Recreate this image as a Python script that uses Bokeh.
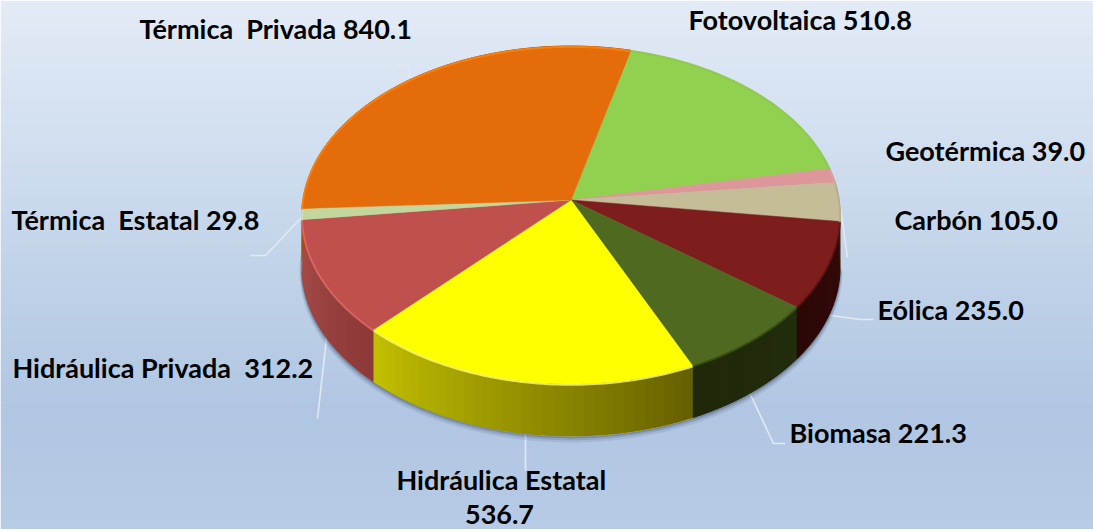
import numpy as np
from bokeh.plotting import figure
from bokeh.models import Range1d, ColumnDataSource
from bokeh.core.properties import value
from bokeh.embed import file_html
from bokeh.resources import INLINE

# ---- data (clockwise from the top start angle)
names = ["Fotovoltaica", "Geotérmica", "Carbón", "Eólica", "Biomasa",
         "Hidráulica Estatal", "Hidráulica Privada", "Térmica Estatal", "Térmica Privada"]
values = [510.8, 39.0, 105.0, 235.0, 221.3, 536.7, 312.2, 29.8, 840.1]
label_texts = ["Fotovoltaica 510.8", "Geotérmica 39.0", "Carbón 105.0", "Eólica 235.0",
               "Biomasa 221.3", "Hidráulica Estatal", "Hidráulica Privada \u00a0312.2",
               "Térmica \u00a0Estatal 29.8", "Térmica \u00a0Privada 840.1"]
second_line_label = "536.7"

# ---- styles
top_colors = ["#92d050", "#dd9699", "#c4bd97", "#7d1e1c", "#4f6a20", "#ffff00", "#c0504d", "#c3d69b", "#e46c0a"]
rim_colors = ["#8cc84c", "#e5a3a5", "#b5ae88", "#5e1513", "#3c5218", "#ffff70", "#e26b68", "#d5e5b0", "#ff8410"]
wall_start = ["#6d9a3a", "#a06f70", "#8f8a6c", "#35090a", "#222d0c", "#665f00", "#8b3937", "#8f9d72", "#a84f08"]
wall_end   = ["#6d9a3a", "#a06f70", "#8f8a6c", "#2a0806", "#1f280a", "#c2c000", "#a84c49", "#8f9d72", "#a84f08"]

W, H = 1093, 531
START_DEG = 14.0
DEPTH = 52.0


def project(deg):
    """Perspective view of the unit disc, degrees clockwise from the top."""
    t = np.radians(deg)
    u, v = np.sin(t), np.cos(t)
    den = 1 + 0.0888 * v
    return 570.5 + 268 * u / den, (199.5 - 149.9 * v) / den


def hex2rgb(h):
    return np.array([int(h[i:i + 2], 16) for i in (1, 3, 5)], float)


def mix(a, b, f):
    c = hex2rgb(a) * (1 - f) + hex2rgb(b) * f
    return "#%02x%02x%02x" % tuple(int(round(x)) for x in c)


p = figure(width=W, height=H, output_backend="svg", toolbar_location=None,
           x_range=Range1d(0, W), y_range=Range1d(H, 0),
           min_border=0, outline_line_color=None)
p.axis.visible = False
p.grid.visible = False

# background gradient
stops_y = np.array([0, 130, 300, 410, 531], float)
stops_rgb = np.array([hex2rgb(c) for c in ["#e3ebf6", "#d3e0f0", "#bdd0e7", "#b0c6e2", "#b7cbe5"]])
edges = np.arange(0, 532, 4.0)
mids = edges[:-1] + 2
bg = ["#%02x%02x%02x" % tuple(int(round(np.interp(y, stops_y, stops_rgb[:, k]))) for k in range(3)) for y in mids]
p.quad(left=0, right=W, top=edges[:-1], bottom=edges[1:] + 0.5, fill_color=bg, line_color=None)

# leader lines
leaders = [([397, 409, 409], [65, 65, 78]),
           ([250, 265, 301], [255, 255, 217]),
           ([317, 327], [418, 329]),
           ([525, 525], [432, 470]),
           ([748, 773, 785], [390, 443, 443]),
           ([823, 860, 873], [314, 319, 319]),
           ([839, 847], [200, 257])]
for lx, ly in leaders:
    p.line(lx, ly, line_color="#e3e9f2", line_width=1.6)

# slice angles from the values
sweep = 360.0 * np.array(values) / sum(values)
starts = START_DEG + np.concatenate([[0], np.cumsum(sweep)[:-1]])
ends = starts + sweep

# soft shadow under the front of the wall
ax, ay = project(np.linspace(95, 272, 200))
for off, alpha, w in [(4, 0.10, 5), (2.5, 0.16, 3.5), (1.2, 0.3, 2)]:
    p.line(ax, ay + DEPTH + off, line_color="#2b3a58", line_alpha=alpha, line_width=w)

# walls: solid base per slice, then strips so the shading runs along the arc
bx, by, bc = [], [], []
xs, ys, fc = [], [], []
for i in range(len(values)):
    if ends[i] < 80 or starts[i] > 290:
        continue
    n = max(int(sweep[i] / 2.0), 2)
    th = np.linspace(starts[i], ends[i], n + 1)
    ex, ey = project(th)
    bx.append(np.concatenate([ex, ex[::-1]]))
    by.append(np.concatenate([ey, ey[::-1] + DEPTH]))
    bc.append(mix(wall_start[i], wall_end[i], 0.5))
    for k in range(n):
        # each strip reaches into the next one, so no seam shows
        j = min(k + 2, n)
        xs.append([ex[k], ex[j], ex[j], ex[k]])
        ys.append([ey[k], ey[j], ey[j] + DEPTH, ey[k] + DEPTH])
        fc.append(mix(wall_start[i], wall_end[i], (k + 0.5) / n))
p.patches(bx, by, fill_color=bc, line_color=bc, line_width=1)
p.patches(xs, ys, fill_color=fc, line_color=None)

# top faces
tx, ty = [], []
cx, cy = 570.5, 199.5
for i in range(len(values)):
    th = np.linspace(starts[i], ends[i], max(int(sweep[i]), 3) + 1)
    ex, ey = project(th)
    tx.append(np.concatenate([[cx], ex]))
    ty.append(np.concatenate([[cy], ey]))
p.patches(tx, ty, fill_color=top_colors, line_color=top_colors, line_width=0.5)

# bevel rims
for i in range(len(values)):
    th = np.linspace(starts[i], ends[i], max(int(sweep[i]), 3) + 1)
    ex, ey = project(th)
    p.line(ex, ey + 0.8, line_color=rim_colors[i], line_width=2, line_alpha=0.8)

# labels
font = value("Lato")
anchors = [(688, 19), (885, 150), (894, 219), (877, 309), (789, 432),
           (396, 479), (12, 367), (11, 219), (139, 28)]
src = ColumnDataSource(dict(x=[a[0] for a in anchors], y=[a[1] for a in anchors], t=label_texts))
p.text("x", "y", text="t", source=src, text_font=font, text_font_style="bold",
       text_font_size="27px", text_color="#000000", text_align="left", text_baseline="middle")
p.text([499], [514], text=[second_line_label], text_font=font, text_font_style="bold",
       text_font_size="27px", text_color="#000000", text_align="center", text_baseline="middle")

open("out.html", "w").write(file_html(p, INLINE))
